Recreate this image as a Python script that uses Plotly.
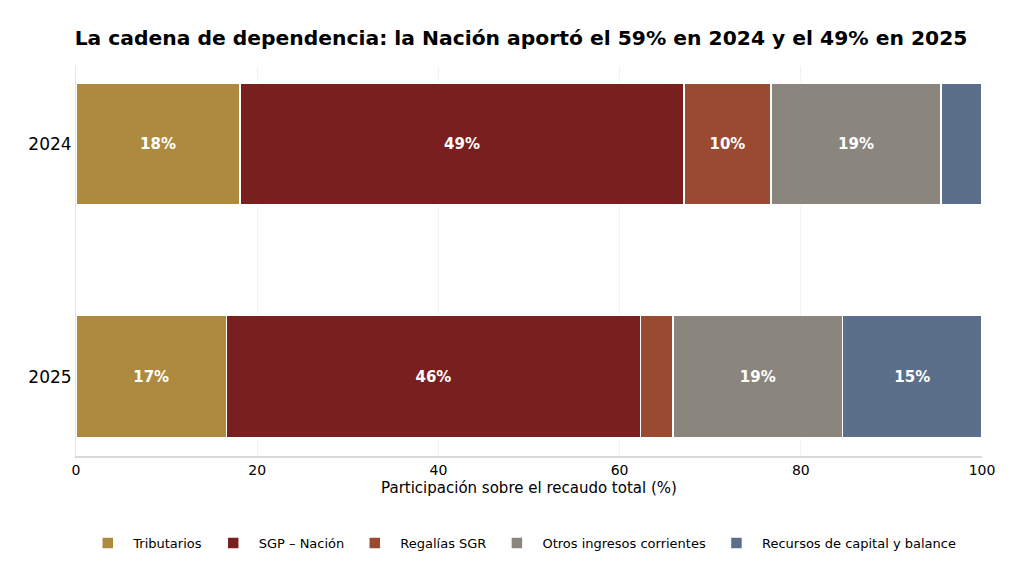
import plotly.graph_objects as go

years = ['2024', '2025']
series_names = ['Tributarios', 'SGP – Nación', 'Regalías SGR', 'Otros ingresos corrientes', 'Recursos de capital y balance']
tributarios = [18.1, 16.6]
sgp_nacion = [49.0, 45.7]
regalias = [9.6, 3.6]
otros = [18.8, 18.7]
recursos = [4.5, 15.4]
colors = ['#AD8A3E', '#7A1F1F', '#9A4A30', '#8A867E', '#5C6F8A']

fig = go.Figure()
for name, vals, color in zip(series_names, [tributarios, sgp_nacion, regalias, otros, recursos], colors):
    labels = [f"{round(v)}%" if v >= 5 else "" for v in vals]
    fig.add_trace(go.Bar(
        name=name, y=years, x=vals, orientation='h',
        marker=dict(color=color, line=dict(color='white', width=1.5)),
        text=labels, textposition='inside', insidetextanchor='middle',
        textfont=dict(color='white', size=15, family='DejaVu Sans'),
        texttemplate='<b>%{text}</b>', hoverinfo='x+name',
    ))

# the page body adds 8px, so margins are shifted to land where the reference does
fig.update_layout(
    barmode='stack', bargap=0.475,
    width=1024, height=584,
    paper_bgcolor='white', plot_bgcolor='white',
    font=dict(family='DejaVu Sans', color='black'),
    title=dict(text='<b>La cadena de dependencia: la Nación aportó el 59% en 2024 y el 49% en 2025</b>',
               xref='container', x=0.501, xanchor='center',
               yref='container', y=0.948, yanchor='middle', font=dict(size=20.3)),
    margin=dict(l=68, r=50, t=58, b=136),
    legend=dict(orientation='h', x=0.492, xanchor='center', y=-0.185, yanchor='top',
                font=dict(size=13), traceorder='normal', itemwidth=41),
)
fig.update_xaxes(range=[0, 100], tickvals=[0, 20, 40, 60, 80, 100], tickfont=dict(size=14),
                 title=dict(text='Participación sobre el recaudo total (%)', font=dict(size=15), standoff=6),
                 showgrid=True, gridcolor='#F2F2F2', showline=True, linecolor='#D9D9D9', linewidth=1.5,
                 zeroline=False, ticks='')
fig.update_yaxes(range=[1.34, -0.335], tickfont=dict(size=17), showline=True, linecolor='#E6E6E6',
                 showgrid=False, ticks='')
fig.write_html("out.html")
